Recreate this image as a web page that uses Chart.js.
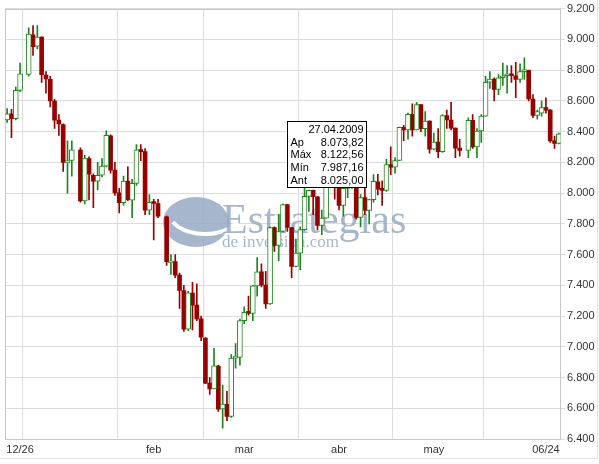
<!DOCTYPE html>
<html>
<head>
<meta charset="utf-8">
<script src="https://cdn.jsdelivr.net/npm/chart.js@4.4.0/dist/chart.umd.min.js"></script>
<style>
  body { margin: 0; background: #fff; }
  #wrap { position: relative; width: 599px; height: 464px; }
</style>
</head>
<body>
<div id="wrap"><canvas id="myChart"></canvas></div>
<script>
// weekdays from 26.12.2008 to 24.06.2009 (holidays kept as empty slots)
const dates = [
  '26.12.2008','29.12.2008','30.12.2008','31.12.2008',
  '01.01.2009','02.01.2009','05.01.2009','06.01.2009','07.01.2009','08.01.2009','09.01.2009','12.01.2009','13.01.2009','14.01.2009','15.01.2009','16.01.2009','19.01.2009','20.01.2009','21.01.2009','22.01.2009','23.01.2009','26.01.2009','27.01.2009','28.01.2009','29.01.2009','30.01.2009',
  '02.02.2009','03.02.2009','04.02.2009','05.02.2009','06.02.2009','09.02.2009','10.02.2009','11.02.2009','12.02.2009','13.02.2009','16.02.2009','17.02.2009','18.02.2009','19.02.2009','20.02.2009','23.02.2009','24.02.2009','25.02.2009','26.02.2009','27.02.2009',
  '02.03.2009','03.03.2009','04.03.2009','05.03.2009','06.03.2009','09.03.2009','10.03.2009','11.03.2009','12.03.2009','13.03.2009','16.03.2009','17.03.2009','18.03.2009','19.03.2009','20.03.2009','23.03.2009','24.03.2009','25.03.2009','26.03.2009','27.03.2009','30.03.2009','31.03.2009',
  '01.04.2009','02.04.2009','03.04.2009','06.04.2009','07.04.2009','08.04.2009','09.04.2009','10.04.2009','13.04.2009','14.04.2009','15.04.2009','16.04.2009','17.04.2009','20.04.2009','21.04.2009','22.04.2009','23.04.2009','24.04.2009','27.04.2009','28.04.2009','29.04.2009','30.04.2009',
  '01.05.2009','04.05.2009','05.05.2009','06.05.2009','07.05.2009','08.05.2009','11.05.2009','12.05.2009','13.05.2009','14.05.2009','15.05.2009','18.05.2009','19.05.2009','20.05.2009','21.05.2009','22.05.2009','25.05.2009','26.05.2009','27.05.2009','28.05.2009','29.05.2009',
  '01.06.2009','02.06.2009','03.06.2009','04.06.2009','05.06.2009','08.06.2009','09.06.2009','10.06.2009','11.06.2009','12.06.2009','15.06.2009','16.06.2009','17.06.2009','18.06.2009','19.06.2009','22.06.2009','23.06.2009','24.06.2009'
];

const open = [
  8475,8515,8484,8668,
  null,8772,9030,8955,9015,8768,8740,8599,8474,8446,8196,8212,null,8280,7949,8225,8115,8077,8116,8175,8373,8149,
  8001,7937,8078,7954,8063,8281,8270,7888,7935,7932,null,7845,7546,7555,7466,7366,7115,7350,7271,7182,
  7056,6764,6726,6874,6595,6625,6547,6926,6930,7170,7224,7217,7396,7487,7401,7278,7776,7660,7750,7925,7776,7522,
  7609,7762,7978,8018,7976,7790,7837,null,8083,8058,7920,8030,8125,8131,7842,7970,7887,7957,8073.82,8025,8017,8186,
  8168,8212,8427,8411,8512,8410,8575,8419,8469,8285,8331,8269,8504,8475,8422,8292,null,8277,8473,8300,8404,
  8500,8721,8741,8675,8750,8763,8764,8763,8739,8790,8799,8612,8505,8520,8556,8540,8339,8323
];
const high = [
  8550,8545,8690,8845,
  null,9075,9090,9090,9016,8790,8760,8610,8510,8450,8340,8340,null,8295,8245,8235,8125,8200,8225,8405,8378,8200,
  8030,8110,8170,8090,8315,8315,8290,7990,7960,7960,null,7850,7600,7600,7480,7400,7360,7420,7410,7200,
  7060,6800,6990,6880,6750,6710,6950,7020,7180,7260,7330,7400,7580,7540,7490,7780,7780,7860,7930,7926,7777,7700,
  7780,8075,8020,8020,7977,7890,8090,null,8090,8060,8040,8170,8190,8132,7990,8060,7960,8120,8122.56,8080,8220,8300,
  8230,8430,8440,8520,8580,8590,8575,8530,8470,8390,8420,8510,8540,8590,8425,8350,null,8490,8510,8420,8510,
  8760,8790,8750,8770,8845,8830,8830,8850,8840,8880,8800,8640,8540,8600,8620,8545,8370,8390
];
const low = [
  8460,8360,8475,8660,
  null,8760,8895,8940,8720,8650,8560,8420,8375,8140,8000,8110,null,7940,7930,7955,7905,8020,8105,8170,8130,7985,
  7870,7920,7950,7840,8050,8210,7860,7860,7695,7840,null,7530,7470,7450,7250,7100,7105,7110,7170,7040,
  6760,6690,6725,6580,6470,6520,6540,6860,6880,7150,7205,7170,7330,7390,7250,7275,7620,7560,7745,7750,7450,7520,
  7500,7760,7880,7860,7760,7730,7836,null,7960,7890,7850,7970,8030,7830,7780,7860,7800,7940,7987.16,7920,8010,8120,
  8130,8210,8340,8350,8370,8410,8400,8370,8260,8280,8230,8265,8420,8410,8230,8240,null,8230,8290,8230,8330,
  8500,8680,8600,8640,8700,8650,8720,8620,8720,8740,8600,8490,8480,8500,8520,8330,8290,8320
];
const close = [
  8515,8484,8668,8776,
  null,9035,8953,9015,8770,8742,8599,8474,8449,8200,8212,8281,null,7949,8228,8123,8077,8116,8175,8375,8149,8001,
  7937,8078,7957,8063,8281,8270,7889,7940,7932,7850,null,7553,7556,7466,7366,7115,7351,7271,7182,7063,
  6763,6726,6876,6594,6627,6547,6926,6930,7170,7224,7217,7396,7487,7401,7278,7776,7660,7750,7925,7776,7522,7609,
  7762,7978,8018,7976,7790,7837,8083,null,8058,7920,8030,8125,8131,7842,7970,7887,7957,8076,8025.00,8017,8186,8168,
  8212,8427,8411,8512,8410,8575,8419,8469,8285,8331,8269,8504,8475,8422,8292,8277,null,8473,8300,8404,8500,
  8721,8741,8675,8750,8763,8764,8763,8739,8790,8799,8612,8505,8530,8556,8540,8339,8323,8385
];

// x labels (index -> text) and first day of each month (vertical grid lines)
const xTickText = { 3: '12/26', 34: 'feb', 55: 'mar', 77: 'abr', 99: 'may', 125: '06/24' };
const monthStarts = [4, 26, 46, 68, 90, 111];

// info box
const tipIndex = 86;
const tipLabels = ['Ap', 'Máx', 'Mín', 'Ant'];

const upColor = '#1f861f';
const downColor = '#990000';
const gridColor = '#dcdcdc';

function thousands(v) {
  return String(v).replace(/\B(?=(\d{3})+(?!\d))/g, '.');
}
function esNum(v) {
  const parts = v.toFixed(2).split('.');
  return thousands(parts[0]) + ',' + parts[1];
}
function isUp(i) {
  return close[i] >= open[i];
}

const upBodies = dates.map((d, i) => (open[i] != null && isUp(i)) ? [open[i], close[i]] : null);
const downBodies = dates.map((d, i) => (open[i] != null && !isUp(i)) ? [open[i], close[i]] : null);
const wicks = dates.map((d, i) => open[i] != null ? [low[i], high[i]] : null);

const backPlugin = {
  id: 'back',
  beforeDatasetsDraw(chart) {
    const ctx = chart.ctx;
    const a = chart.chartArea;
    ctx.save();
    // outer frame
    ctx.strokeStyle = '#e2e2e2';
    ctx.beginPath();
    ctx.moveTo(0, 458.5); ctx.lineTo(597.5, 458.5); ctx.lineTo(597.5, 0);
    ctx.stroke();
    // watermark logo
    ctx.fillStyle = 'rgba(150,170,196,0.85)';
    ctx.beginPath();
    ctx.ellipse(196, 222, 33, 25, 0, 0, Math.PI * 2);
    ctx.fill();
    ctx.strokeStyle = '#ffffff';
    ctx.lineWidth = 4;
    ctx.beginPath();
    ctx.ellipse(205, 212, 36, 22, 0, 0.15 * Math.PI, 0.85 * Math.PI);
    ctx.stroke();
    ctx.fillStyle = 'rgba(150,170,196,0.85)';
    ctx.font = '42px "Liberation Serif", "DejaVu Serif", serif';
    ctx.textBaseline = 'alphabetic';
    ctx.fillText('Estrategias', 222, 233);
    ctx.font = '17px "Liberation Serif", "DejaVu Serif", serif';
    ctx.fillText('de inversion.com', 222, 247);
    // plot frame
    ctx.strokeStyle = '#c8c8c8';
    ctx.lineWidth = 1;
    ctx.strokeRect(Math.round(a.left) + 0.5, Math.round(a.top) + 0.5,
      Math.round(a.right - a.left) - 1, Math.round(a.bottom - a.top));
    ctx.restore();
  }
};

const tipPlugin = {
  id: 'tip',
  afterDraw(chart) {
    const ctx = chart.ctx;
    const x = chart.scales.x.getPixelForValue(tipIndex);
    const y = chart.scales.y.getPixelForValue(close[tipIndex]);
    const w = 79, h = 66;
    const right = Math.round(x - 12) + 0.5;
    const bottom = Math.round(y - 2) + 0.5;
    const left = right - w, top = bottom - h;
    ctx.save();
    ctx.fillStyle = '#ffffff';
    ctx.fillRect(left, top, w, h);
    ctx.strokeStyle = '#000000';
    ctx.lineWidth = 1;
    ctx.strokeRect(left, top, w, h);
    ctx.fillStyle = '#000000';
    ctx.font = '11px "Liberation Sans", Arial, sans-serif';
    ctx.textBaseline = 'middle';
    ctx.textAlign = 'right';
    ctx.fillText(dates[tipIndex], right - 3, top + 8);
    const vals = [open[tipIndex], high[tipIndex], low[tipIndex], close[tipIndex]];
    tipLabels.forEach((lab, k) => {
      const ly = top + 21 + k * 12.8;
      ctx.textAlign = 'left';
      ctx.fillText(lab, left + 3, ly);
      ctx.textAlign = 'right';
      ctx.fillText(esNum(vals[k]), right - 3, ly);
    });
    ctx.restore();
  }
};

const config = {
  type: 'bar',
  data: {
    labels: dates,
    datasets: [
      {
        label: 'up',
        data: upBodies,
        backgroundColor: '#ffffff',
        borderColor: upColor,
        borderWidth: 1,
        borderSkipped: false,
        barThickness: 5,
        minBarLength: 2,
        grouped: false,
        order: 0
      },
      {
        label: 'down',
        data: downBodies,
        backgroundColor: downColor,
        borderColor: downColor,
        borderWidth: 0,
        borderSkipped: false,
        barThickness: 4,
        minBarLength: 2,
        grouped: false,
        order: 1
      },
      {
        label: 'wick',
        data: wicks,
        backgroundColor: (c) => isUp(c.dataIndex) ? upColor : downColor,
        borderWidth: 0,
        barThickness: 1,
        grouped: false,
        order: 2
      }
    ]
  },
  options: {
    responsive: true,
    maintainAspectRatio: false,
    animation: false,
    layout: { padding: { left: 5, top: 8, right: 0, bottom: 0 } },
    plugins: {
      legend: { display: false },
      tooltip: { enabled: false }
    },
    scales: {
      x: {
        offset: true,
        grid: {
          offset: true,
          drawTicks: false,
          color: (c) => monthStarts.includes(c.index) ? gridColor : 'rgba(0,0,0,0)'
        },
        border: { display: false },
        ticks: {
          autoSkip: false,
          maxRotation: 0,
          minRotation: 0,
          padding: 4,
          color: '#333333',
          font: { family: '"Liberation Sans", Arial, sans-serif', size: 11 },
          callback: (v, i) => xTickText[i] || ''
        },
        afterFit: (s) => { s.height = 25; }
      },
      y: {
        position: 'right',
        min: 6400,
        max: 9200,
        grid: { color: gridColor, tickLength: 4 },
        border: { display: false },
        ticks: {
          stepSize: 200,
          padding: 2,
          color: '#333333',
          font: { family: '"Liberation Sans", Arial, sans-serif', size: 11 },
          callback: (v) => thousands(v)
        },
        afterFit: (s) => { s.width = 38; }
      }
    }
  },
  plugins: [backPlugin, tipPlugin]
};

const myChart = new Chart(document.getElementById('myChart'), config);
</script>
</body>
</html>
